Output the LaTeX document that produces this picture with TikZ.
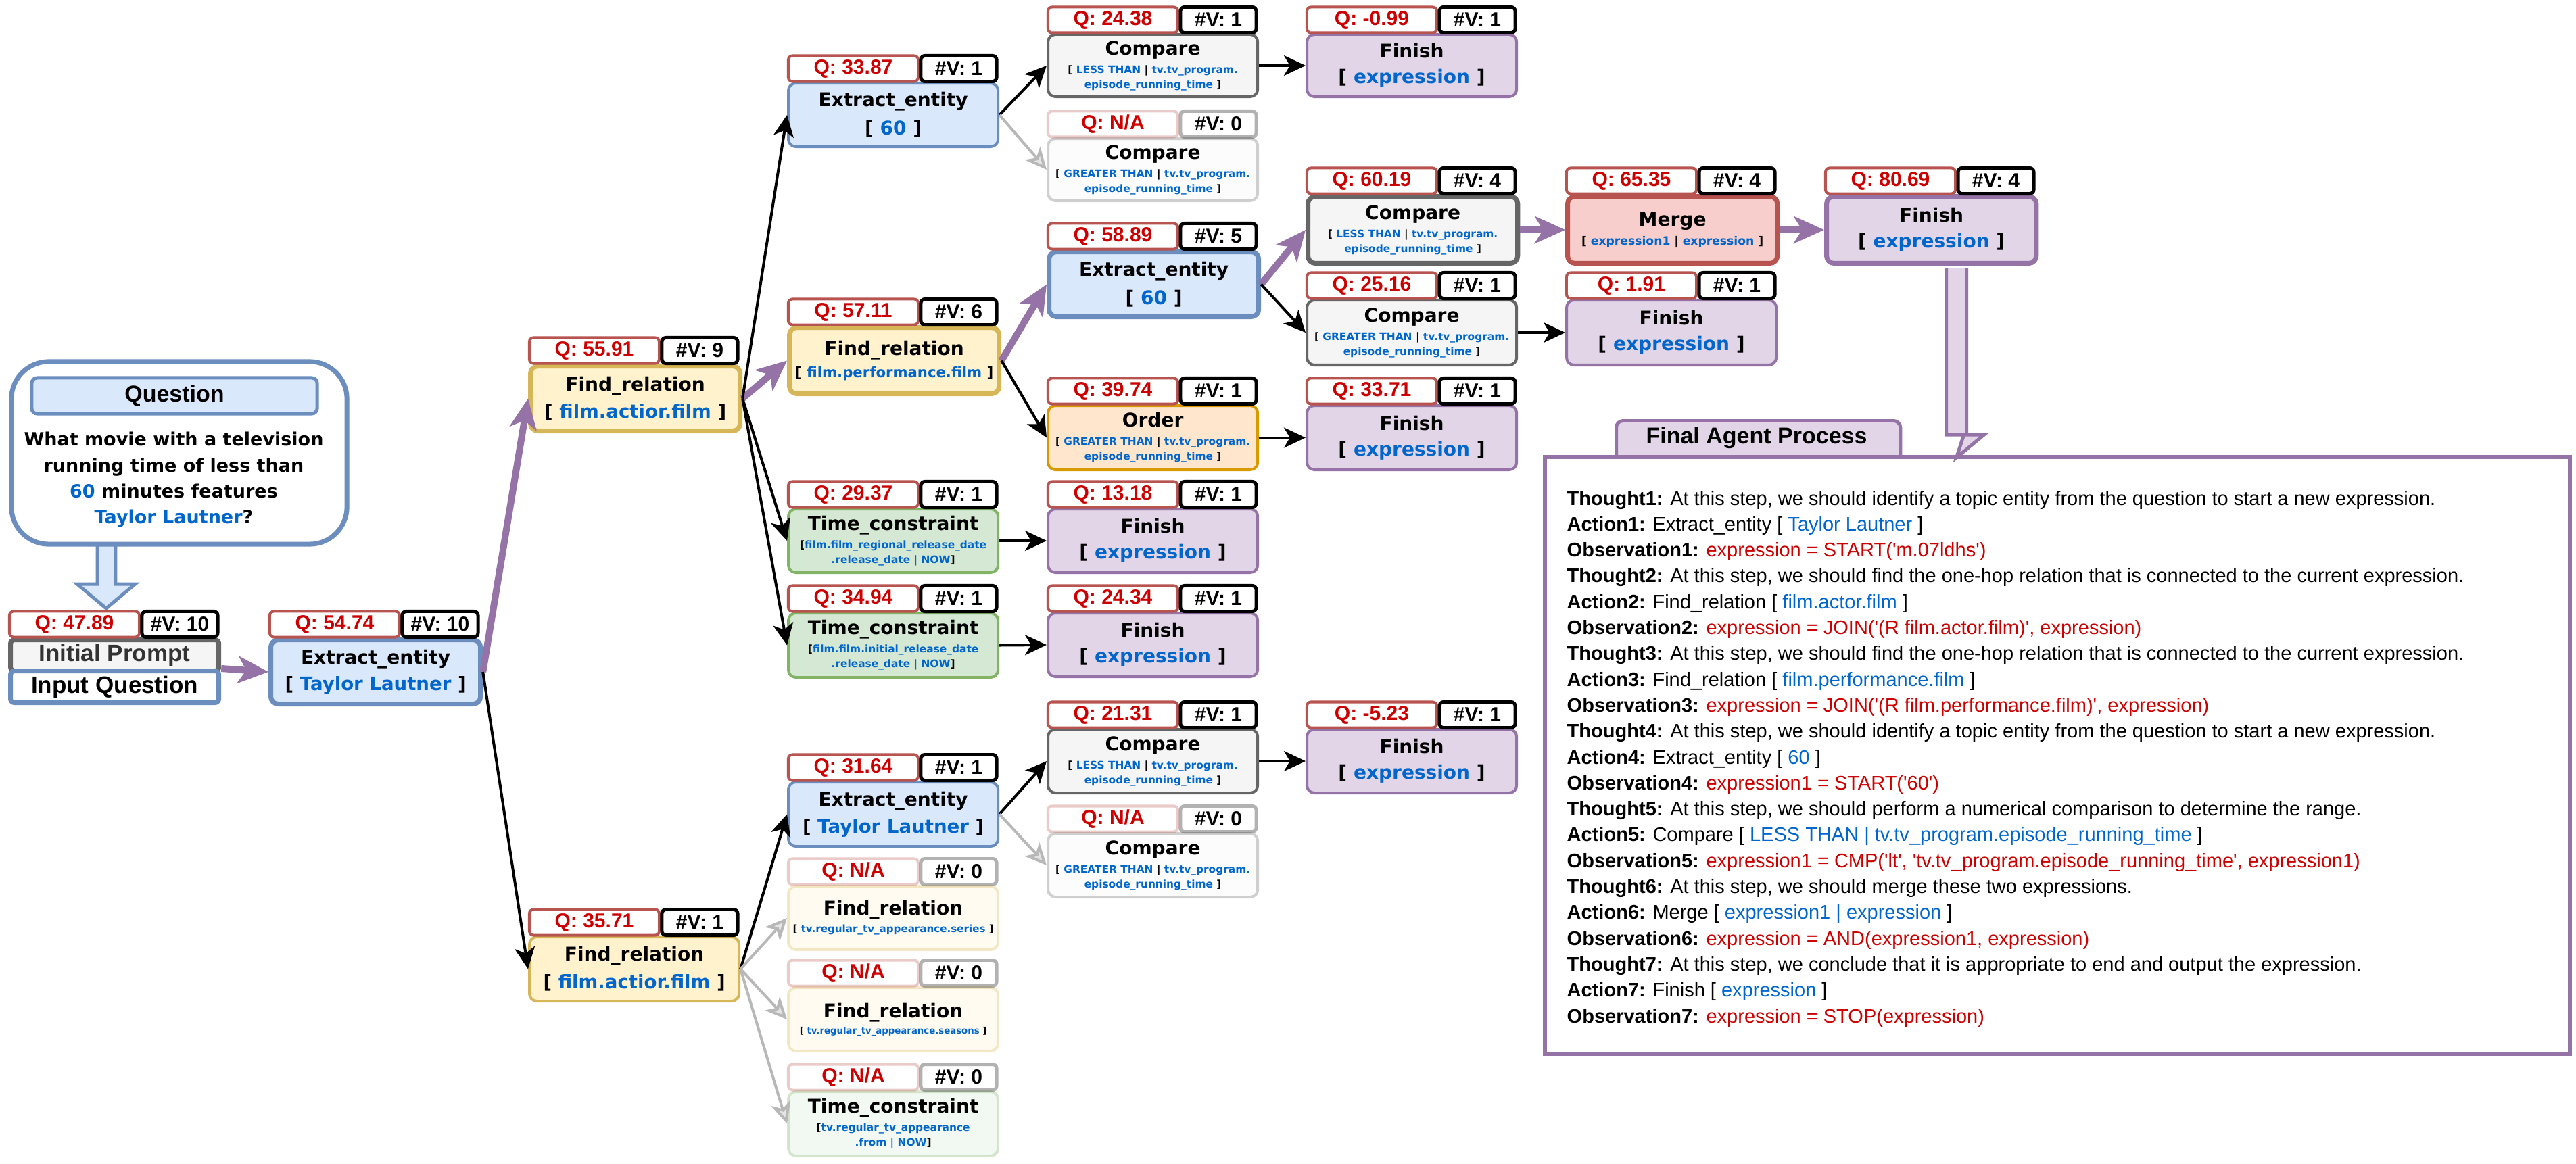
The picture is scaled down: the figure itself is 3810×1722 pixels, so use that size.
\documentclass[tikz,border=0pt]{standalone}
\usepackage{fontspec}
\setmainfont{Liberation Sans}
\newfontfamily\dv{DejaVu Sans}
\newfontfamily\lib{Liberation Sans}
\usetikzlibrary{arrows.meta,calc}
\definecolor{tblue}{HTML}{0066CC}
\definecolor{tred}{HTML}{CC0000}
\definecolor{tgray}{HTML}{333333}
\definecolor{bfill}{HTML}{DAE8FC}\definecolor{bdraw}{HTML}{6C8EBF}
\definecolor{yfill}{HTML}{FFF2CC}\definecolor{ydraw}{HTML}{D6B656}
\definecolor{gfill}{HTML}{D5E8D4}\definecolor{gdraw}{HTML}{82B366}
\definecolor{kfill}{HTML}{F5F5F5}\definecolor{kdraw}{HTML}{666666}
\definecolor{pfill}{HTML}{E1D5E7}\definecolor{pdraw}{HTML}{9673A6}
\definecolor{rfill}{HTML}{F8CECC}\definecolor{rdraw}{HTML}{B85450}
\definecolor{ofill}{HTML}{FFE6CC}\definecolor{odraw}{HTML}{D79B00}
\newcommand\bl[1]{\textcolor{tblue}{#1}}
\newcommand\rd[1]{\textcolor{tred}{#1}}
\newcommand\ppx[2]{{\fontsize{#1}{#1}\selectfont #2}}
\tikzset{
  nbox/.style={rectangle, rounded corners=0.11cm, minimum width=3.1cm, inner sep=0pt, align=center, line width=1.14pt},
  thk/.style={line width=2pt},
  nblue/.style={nbox, draw=bdraw, fill=bfill},
  nyel/.style={nbox, draw=ydraw, fill=yfill},
  ngrn/.style={nbox, draw=gdraw, fill=gfill},
  ngry/.style={nbox, draw=kdraw, fill=kfill},
  npur/.style={nbox, draw=pdraw, fill=pfill},
  nred/.style={nbox, draw=rdraw, fill=rfill},
  nora/.style={nbox, draw=odraw, fill=ofill},
  bsk/.style={font=\dv\bfseries\fontsize{7.97pt}{#1}\selectfont},
  qbx/.style={rectangle, rounded corners=0.06cm, draw=rdraw, fill=white, line width=1.14pt, minimum width=1.92cm, minimum height=0.38cm, inner sep=0pt, text=tred, font=\lib\bfseries\fontsize{8.54pt}{9pt}\selectfont},
  vbx/.style={qbx, draw=black, line width=1.42pt, minimum width=1.12cm, text=black},
  faded/.style={draw opacity=0.3, fill opacity=0.3, text opacity=1},
  parr/.style={draw=pdraw, line width=2.85pt, -{Stealth[length=12.8pt,width=11.4pt,inset=3.5pt]}},
  karr/.style={draw=black, line width=1.14pt, -{Stealth[length=9.1pt,width=8.5pt,inset=2.5pt]}},
  garr/.style={draw=black!28, line width=1.14pt, -{Stealth[length=9.1pt,width=8.5pt,inset=2.5pt,fill=black!10]}},
  aline/.style={anchor=base west, inner sep=0pt, font=\lib\fontsize{8.25pt}{9pt}\selectfont},
}
\newcommand\mkunit[9]{%
  \node[#5,#6,anchor=north west,minimum height=#4*0.01cm] (#1) at (#2,#3+39) {#9};
  \node[qbx,#6] (#1q) at (#2+98,#3+19.5) {#7};
  \node[vbx,#6] (#1v) at (#2+254,#3+19.5) {#8};
}
\newcommand\cmpless{Compare\\[1.4pt]\ppx{4.38pt}{[ \bl{LESS THAN} | \bl{tv.tv\_program.}}\\\ppx{4.38pt}{\bl{episode\_running\_time} ]}}
\newcommand\cmpgreat{\\[1.4pt]\ppx{4.38pt}{[ \bl{GREATER THAN} | \bl{tv.tv\_program.}}\\\ppx{4.38pt}{\bl{episode\_running\_time} ]}}
\newcommand\finexp{Finish\\\ppx{7.97pt}{[ \bl{expression} ]}}
\begin{document}
\begin{tikzpicture}[x=0.01cm,y=-0.01cm]
\useasboundingbox (0,0) rectangle (3810,1722);

% ---------- question block ----------
\draw[draw=bdraw, fill=bfill, line width=1.42pt] (144,805) -- (144,864) -- (114,864) -- (157,900) -- (200,864) -- (171,864) -- (171,805) -- cycle;
\node[draw=bdraw, line width=2pt, fill=white, rounded corners=0.55cm, minimum width=4.96cm, minimum height=2.7cm, inner sep=0pt] (qbox) at (265,670) {};
\node[draw=bdraw, fill=bfill, line width=1.42pt, rounded corners=0.08cm, minimum width=4.22cm, minimum height=0.53cm, inner sep=0pt, font=\lib\bfseries\fontsize{9.67pt}{11pt}\selectfont] (qhdr) at (258,585.5) {Question};
\node[align=center, inner sep=0pt, font=\dv\bfseries\fontsize{7.68pt}{10.9pt}\selectfont] (qtext) at (257,710) {What movie with a television\\running time of less than\\\bl{60} minutes features\\\bl{Taylor Lautner}?};

% ---------- initial prompt ----------
\node[draw=kdraw, fill=kfill, line width=2pt, rounded corners=0.06cm, minimum width=3.08cm, minimum height=0.46cm, inner sep=0pt, anchor=north west, text=tgray, font=\lib\bfseries\fontsize{9.96pt}{11pt}\selectfont] (ip) at (12,943) {Initial Prompt};
\node[draw=bdraw, fill=white, line width=2pt, rounded corners=0.06cm, minimum width=3.08cm, minimum height=0.47cm, inner sep=0pt, anchor=north west, font=\lib\bfseries\fontsize{9.96pt}{11pt}\selectfont] (iq) at (12,989) {Input Question};
\node[qbx] (ipq) at (110,923.5) {Q: 47.89};
\node[vbx] (ipv) at (266,923.5) {\#V: 10};

% ---------- tree nodes ----------
\mkunit{root}{397}{904}{95}{nblue,thk,bsk=11.1pt}{}{Q: 54.74}{\#V: 10}{Extract\_entity\\\ppx{7.85pt}{[ \bl{Taylor Lautner} ]}}
\mkunit{fr1}{781}{499}{96}{nyel,thk,bsk=11.4pt}{}{Q: 55.91}{\#V: 9}{Find\_relation\\\ppx{7.85pt}{[ \bl{film.actior.film} ]}}
\mkunit{frb}{781}{1345}{95}{nyel,bsk=11.7pt}{}{Q: 35.71}{\#V: 1}{Find\_relation\\\ppx{7.85pt}{[ \bl{film.actior.film} ]}}

\mkunit{eea}{1164}{82}{94}{nblue,bsk=11.9pt}{}{Q: 33.87}{\#V: 1}{Extract\_entity\\\ppx{7.97pt}{[ \bl{60} ]}}
\mkunit{fr2}{1164}{442}{98}{nyel,thk,bsk=9.4pt}{}{Q: 57.11}{\#V: 6}{Find\_relation\\\ppx{6.03pt}{[ \bl{film.performance.film} ]}}
\mkunit{tc1}{1164}{712}{94}{ngrn,bsk=6.26pt}{}{Q: 29.37}{\#V: 1}{Time\_constraint\\[1.4pt]\ppx{4.38pt}{[\bl{film.film\_regional\_release\_date}}\\\ppx{4.38pt}{\bl{.release\_date | NOW}]}}
\mkunit{tc2}{1164}{866}{95}{ngrn,bsk=6.26pt}{}{Q: 34.94}{\#V: 1}{Time\_constraint\\[1.4pt]\ppx{4.38pt}{[\bl{film.film.initial\_release\_date}}\\\ppx{4.38pt}{\bl{.release\_date | NOW}]}}
\mkunit{eec}{1164}{1116}{95}{nblue,bsk=11.4pt}{}{Q: 31.64}{\#V: 1}{Extract\_entity\\\ppx{7.85pt}{[ \bl{Taylor Lautner} ]}}
\mkunit{frc2}{1164}{1270}{94}{nyel,bsk=7.4pt}{faded}{Q: N/A}{\#V: 0}{Find\_relation\\\ppx{4.3pt}{[ \bl{tv.regular\_tv\_appearance.series} ]}}
\mkunit{frc3}{1164}{1420}{94}{nyel,bsk=6.83pt}{faded}{Q: N/A}{\#V: 0}{Find\_relation\\\ppx{3.78pt}{[ \bl{tv.regular\_tv\_appearance.seasons} ]}}
\mkunit{tcc4}{1164}{1574}{95}{ngrn,bsk=6.26pt}{faded}{Q: N/A}{\#V: 0}{Time\_constraint\\[1.4pt]\ppx{4.38pt}{[\bl{tv.regular\_tv\_appearance}}\\\ppx{4.38pt}{\bl{.from | NOW}]}}

\mkunit{cmpa1}{1548}{10}{92}{ngry,bsk=6.26pt}{}{Q: 24.38}{\#V: 1}{\cmpless}
\mkunit{cmpa2}{1548}{164}{92}{ngry,bsk=6.26pt}{faded}{Q: N/A}{\#V: 0}{Compare\cmpgreat}
\mkunit{eeb}{1548}{330}{96}{nblue,thk,bsk=11.9pt}{}{Q: 58.89}{\#V: 5}{Extract\_entity\\\ppx{7.97pt}{[ \bl{60} ]}}
\mkunit{order}{1548}{559}{95}{nora,bsk=6.26pt}{}{Q: 39.74}{\#V: 1}{Order\cmpgreat}
\mkunit{fint1}{1548}{712}{94}{npur,bsk=10.8pt}{}{Q: 13.18}{\#V: 1}{\finexp}
\mkunit{fint2}{1548}{866}{94}{npur,bsk=10.8pt}{}{Q: 24.34}{\#V: 1}{\finexp}
\mkunit{cmpc1}{1548}{1038}{94}{ngry,bsk=6.26pt}{}{Q: 21.31}{\#V: 1}{\cmpless}
\mkunit{cmpc2}{1548}{1192}{94}{ngry,bsk=6.26pt}{faded}{Q: N/A}{\#V: 0}{Compare\cmpgreat}

\mkunit{fina1}{1931}{10}{92}{npur,bsk=10.8pt}{}{Q: -0.99}{\#V: 1}{\finexp}
\mkunit{cmpb1}{1931}{248}{99}{ngry,thk,bsk=6.26pt}{}{Q: 60.19}{\#V: 4}{\cmpless}
\mkunit{cmpb2}{1931}{403}{96}{ngry,bsk=6.26pt}{}{Q: 25.16}{\#V: 1}{Compare\cmpgreat}
\mkunit{fino}{1931}{559}{95}{npur,bsk=10.8pt}{}{Q: 33.71}{\#V: 1}{\finexp}
\mkunit{finc1}{1931}{1038}{94}{npur,bsk=10.8pt}{}{Q: -5.23}{\#V: 1}{\finexp}

\mkunit{merge}{2315}{248}{99}{nred,thk,bsk=7.97pt}{}{Q: 65.35}{\#V: 4}{Merge\\\ppx{4.89pt}{[ \bl{expression1} | \bl{expression} ]}}
\mkunit{finb2}{2315}{403}{96}{npur,bsk=10.8pt}{}{Q: 1.91}{\#V: 1}{\finexp}
\mkunit{finb}{2698}{248}{99}{npur,thk,bsk=10.8pt}{}{Q: 80.69}{\#V: 4}{\finexp}

% ---------- final agent process ----------
\node[draw=pdraw, fill=pfill, line width=1.42pt, rounded corners=0.1cm, minimum width=4.2cm, minimum height=0.75cm, inner sep=0pt, anchor=north west] (tab) at (2388,620) {};
\node[draw=pdraw, fill=white, line width=1.7pt, minimum width=15.15cm, minimum height=8.82cm, inner sep=0pt, anchor=north west] (agent) at (2282,673) {};
\node[inner sep=0pt, font=\lib\bfseries\fontsize{9.67pt}{11pt}\selectfont] (tabtxt) at (2598,648) {Final Agent Process};
\draw[draw=pdraw, fill=pfill, line width=1.42pt] ($(finb.south)+(22,4)$) -- ++(0,246) -- ++(26,0) -- ($(finb.south)+(37,284)$) -- ($(finb.south)+(78,250)$) -- ++(-26,0) -- ($(finb.south)+(52,4)$);

\node[aline] (a1) at (2317,747) {\textbf{Thought1:} At this step, we should identify a topic entity from the question to start a new expression.};
\node[aline] (a2) at (2317,785.3) {\textbf{Action1:} Extract\_entity [ \bl{Taylor Lautner} ]};
\node[aline] (a3) at (2317,823.6) {\textbf{Observation1:} \rd{expression = START('m.07ldhs')}};
\node[aline] (a4) at (2317,861.9) {\textbf{Thought2:} At this step, we should find the one-hop relation that is connected to the current expression.};
\node[aline] (a5) at (2317,900.2) {\textbf{Action2:} Find\_relation [ \bl{film.actor.film} ]};
\node[aline] (a6) at (2317,938.5) {\textbf{Observation2:} \rd{expression = JOIN('(R film.actor.film)', expression)}};
\node[aline] (a7) at (2317,976.8) {\textbf{Thought3:} At this step, we should find the one-hop relation that is connected to the current expression.};
\node[aline] (a8) at (2317,1015.1) {\textbf{Action3:} Find\_relation [ \bl{film.performance.film} ]};
\node[aline] (a9) at (2317,1053.4) {\textbf{Observation3:} \rd{expression = JOIN('(R film.performance.film)', expression)}};
\node[aline] (a10) at (2317,1091.7) {\textbf{Thought4:} At this step, we should identify a topic entity from the question to start a new expression.};
\node[aline] (a11) at (2317,1130) {\textbf{Action4:} Extract\_entity [ \bl{60} ]};
\node[aline] (a12) at (2317,1168.3) {\textbf{Observation4:} \rd{expression1 = START('60')}};
\node[aline] (a13) at (2317,1206.6) {\textbf{Thought5:} At this step, we should perform a numerical comparison to determine the range.};
\node[aline] (a14) at (2317,1244.9) {\textbf{Action5:} Compare [ \bl{LESS THAN | tv.tv\_program.episode\_running\_time} ]};
\node[aline] (a15) at (2317,1283.2) {\textbf{Observation5:} \rd{expression1 = CMP('lt', 'tv.tv\_program.episode\_running\_time', expression1)}};
\node[aline] (a16) at (2317,1321.5) {\textbf{Thought6:} At this step, we should merge these two expressions.};
\node[aline] (a17) at (2317,1359.8) {\textbf{Action6:} Merge [ \bl{expression1 | expression} ]};
\node[aline] (a18) at (2317,1398.1) {\textbf{Observation6:} \rd{expression = AND(expression1, expression)}};
\node[aline] (a19) at (2317,1436.4) {\textbf{Thought7:} At this step, we conclude that it is appropriate to end and output the expression.};
\node[aline] (a20) at (2317,1474.7) {\textbf{Action7:} Finish [ \bl{expression} ]};
\node[aline] (a21) at (2317,1513) {\textbf{Observation7:} \rd{expression = STOP(expression)}};

% ---------- connectors ----------
\draw[parr] (iq.north east) -- (root.west);
\draw[parr] (root.east) -- (fr1.west);
\draw[karr] (root.east) -- (frb.west);
\draw[parr] (fr1.east) -- (fr2.west);
\draw[karr] (fr1.east) -- (eea.west);
\draw[karr] (fr1.east) -- (tc1.west);
\draw[karr] (fr1.east) -- (tc2.west);
\draw[karr] (eea.east) -- (cmpa1.west);
\draw[garr] (eea.east) -- (cmpa2.west);
\draw[karr] (cmpa1.east) -- (fina1.west);
\draw[parr] (fr2.east) -- (eeb.west);
\draw[karr] (fr2.east) -- (order.west);
\draw[parr] (eeb.east) -- (cmpb1.west);
\draw[karr] (eeb.east) -- (cmpb2.west);
\draw[parr] (cmpb1.east) -- (merge.west);
\draw[parr] (merge.east) -- (finb.west);
\draw[karr] (cmpb2.east) -- (finb2.west);
\draw[karr] (order.east) -- (fino.west);
\draw[karr] (tc1.east) -- (fint1.west);
\draw[karr] (tc2.east) -- (fint2.west);
\draw[karr] (frb.east) -- (eec.west);
\draw[garr] (frb.east) -- (frc2.west);
\draw[garr] (frb.east) -- (frc3.west);
\draw[garr] (frb.east) -- (tcc4.west);
\draw[karr] (eec.east) -- (cmpc1.west);
\draw[garr] (eec.east) -- (cmpc2.west);
\draw[karr] (cmpc1.east) -- (finc1.west);
\end{tikzpicture}
\end{document}
